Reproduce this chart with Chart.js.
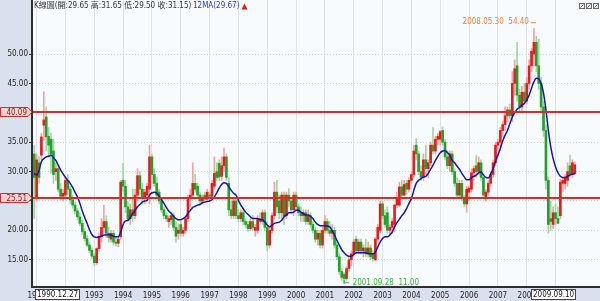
<!DOCTYPE html>
<html>
<head>
<meta charset="utf-8">
<script src="https://cdn.jsdelivr.net/npm/chart.js@4.4.1/dist/chart.umd.min.js"></script>
<style>
  html, body { margin: 0; padding: 0; background: #fff; }
  #wrap { width: 600px; height: 301px; }
</style>
</head>
<body>
<div id="wrap"><canvas id="kchart" width="600" height="301"></canvas></div>
<script>
// monthly K bars, 1990.12 .. 2009.09 (one row per year)
const opens = [33,
  25.5,31.5,32.8,37.9,39.3,36,35.5,33.5,30,30.5,27,25.8,
  26,28.5,27,25.2,24.3,23.3,22.3,21.2,19.8,18.6,17.5,16.6,
  15.6,14.5,16.9,18.9,20.5,21.5,19.5,18.5,19.5,18,17.8,18.9,
  28.5,27.5,24,22,23.5,22.5,26,29.3,27,25.5,26,27,
  32.5,29.5,28,26.5,25,23.5,22.5,21.5,21.8,22.5,20.5,19.5,
  21,19.5,20,22,25.5,26,28,27.5,26,25,26,25.3,
  26,25.8,27.5,30,31.4,29.2,31,32.5,28,23.5,22.5,25,
  22.5,22,23,21.5,21,20.3,21.5,20,20,22,21.5,23,
  20.5,17.5,20,22.5,26.5,25,23,26,22.5,26,25,23.5,
  26,24,23,22.5,23,21.5,22.5,21,20,18.5,19.5,17.5,
  20,21.5,20,19.5,20,17.5,15.5,13,12.5,11.8,13.5,15,
  16,18.5,16.5,18,16.5,17,16,17,16,15,18.5,20,
  24.5,22.5,23,20,20.5,21,24.3,24.3,27.4,26,28,27,
  28.5,29.5,34.5,33,30,29,32,30.5,31.5,34.5,33.5,35.5,
  35.5,37,35,32.5,31,33,30,28,26,28,25.5,24.5,
  26.5,27,29.8,31,30,31.5,29,25.5,26.5,28,29.5,31.5,
  34.5,35,37,38,39.5,40.5,39.5,45,48,43,41,43.5,
  42,45,48,50,52,48,45,41,37,28.5,22,21,
  23,22,22.5,28,28,28.5,31,29.5,29.65];

const highs = [34.5,
  33,32.5,36.5,43.6,41,37.5,36.5,35.5,31.5,31,28,27,
  29,29.5,27.5,26,24.8,23.8,23,21.8,20.3,19.2,18,17,
  16,17,19.5,22,24.3,22.5,20.5,20,20,18.8,19,28.5,
  31.4,28.5,25,24.5,27,27,30.5,30,28,27,28,34.5,
  33,30.5,29,27,25.5,24,23,22.5,23,23,21.5,21,
  21.5,20.5,22.5,26,27,31.5,29.5,28,26.5,26,26.5,27,
  26.5,28.5,32.5,31.5,32,32.5,34,33,29,25,25.5,25.5,
  23.5,23.5,23.5,22,21.5,22,22.5,21,22.5,23,23.5,23.5,
  21.5,20.5,23,28.2,28.5,26,26.5,26.5,26.5,27.1,25.5,26.5,
  26.5,24.5,24,23.5,23.5,23.5,23,21.5,20.5,20,20,20.5,
  22.5,22,21.5,21,20.5,18,16,13.5,12.8,13.8,15.5,16.5,
  18.5,19,18.5,18.5,17.5,18.5,18,17.5,16.5,18.8,21,25,
  25,23.5,24,21,22,24.5,26.5,28.2,28.5,28.5,28.5,29,
  30,34.5,35.6,33.5,31,33,34.5,32,35,37.5,36,36.5,
  37,37.6,35.5,33.5,33.5,33.5,30.5,29,28.5,28.5,26,27.5,
  27.5,30.5,31,32.8,32.5,32,29.5,27,28.5,30,32,35,
  35.5,37.5,38.5,41,41,41.5,47,49,52,44,44.5,45,
  46,49,51,54.4,53,52.5,46,42,38,29,25,24,
  24.5,24,28.7,29,29.5,31.5,32.8,32,31.65];

const lows = [22,
  25,28,32,35.3,33.5,32.5,29.7,28,28.5,26.5,25.2,25,
  25.5,26,24.5,23.8,22.8,21.8,20.8,19.3,18.2,17.2,16.2,15.2,
  14,14.2,16.5,18,19.5,18.8,18,18,17.5,17.3,17.2,18.5,
  26.5,23,21.5,21,21.5,22,25,26,24.5,24.5,25,24.5,
  28,27.5,25.5,24.5,23,22,21.5,20.5,21,20,18,18.5,
  19,19,19.5,21.5,24,25.5,26.5,25.5,24.5,24.5,24.8,25,
  25.2,25.5,27,28.5,28.5,28.5,30,28.5,22.5,22,22,22,
  21.5,21.5,21,20.5,19.8,20,20,19,19.5,21,21,20,
  16.5,17,19.5,22,23,22,22,21,22,24,23,22.5,
  23.5,22.5,21.5,21.5,21,21,20.5,19.5,18,17.5,17,17,
  19.5,19.5,19,18.5,17,15,12.5,11.5,11,11.5,13,14,
  15.5,16,16,16,15.5,15.5,15.5,15,14.8,14.8,18,19.5,
  22,20.5,19.5,19.2,19.5,19.7,23.8,24,25.5,25.8,26,26.5,
  28,29,32,29.5,28.5,28.5,29.5,29,31,33,33,34.5,
  34.5,34.5,32,30.5,30,29.5,27.5,25.5,25.5,25,24,23.1,
  25,26.5,28.5,29,29.5,28.5,25.5,25,26,27.5,29,31,
  33.5,34,36,37,38.5,39,38.5,43,42,40,40,41.5,
  41.5,44,47,48,47,44,40,36,27,19.5,20,20.3,
  21,21.1,22,26.5,27,27.5,29,29,29.5];

const closes = [29,
  32,29,35.9,38.8,35.9,34.5,33,29.5,30.5,27,25.8,26.3,
  28.5,27,25.2,24.3,23.3,22.3,21.2,19.8,18.6,17.5,16.6,15.6,
  14.5,16.9,18.9,20.5,21.5,19.5,18.8,19.5,18,17.8,18.5,28.2,
  27.5,24,22,23.5,22.5,26,29.3,27,25.5,26.5,27.5,32.5,
  29.5,28,26,25,23.5,22.5,22,22,22.5,20.5,19,20,
  19.5,20,22,25.5,26,28,27,26,25,25.5,25.3,26.5,
  25.8,28,29.7,29,29.1,31,32.5,29,23.5,22.5,25,22.5,
  22,23,21.5,21,20.3,21.5,20.5,20.5,22,21.5,23,20.5,
  17.5,20,22.5,26.5,24,23,26,22.5,26,25,23.5,26,
  24,23,22.5,23,21.5,22.5,21,20,18.5,19.5,17.5,20,
  21.5,20,19.5,20,17.5,15.5,13,12,11.8,13.5,15,16,
  18,16.5,18,16.5,17,16,17,15.5,15.2,18.5,20.5,24.5,
  22.5,21,20,20.5,21.5,24.3,25.5,27.4,26,27.8,27,28.5,
  29.5,33.5,33,30,29,32,30.5,31.5,34.5,33.5,35.5,36,
  36.8,35,32.5,31,33,30,28,26,28,25.5,24.5,27,
  27.2,29.8,30.5,30,31.5,29,26,26.5,28,29.5,31.5,34.5,
  35,37,38,39.5,40.5,39.5,45,47.5,43,41,43.5,42,
  45,48,50.5,52,48,45,41,37,28.5,21,21.5,23,
  22,21.2,28.2,28.5,29,30,29.5,31.5,31.15];

// 12MA line
const ma12 = [29.7,
  29.4,30.2,31.7,32.2,32.5,32.6,32.8,32.4,31.9,31.1,30.3,29.6,
  29.0,28.5,28.0,27.3,26.5,25.7,24.6,23.3,22.2,21.2,20.1,19.3,
  18.9,18.8,18.9,19.0,19.2,19.2,19.3,19.2,19.0,18.9,18.9,19.7,
  21.0,21.6,21.7,22.2,22.9,23.4,24.0,24.4,24.8,25.0,25.1,26.0,
  26.4,26.5,26.3,25.8,25.2,24.6,23.9,23.3,22.9,22.4,22.0,21.8,
  21.8,22.0,22.3,22.9,23.4,23.9,24.1,24.3,24.4,24.7,24.8,24.9,
  25.0,25.2,25.7,26.4,27.2,27.8,28.1,28.0,27.4,26.8,26.3,26.0,
  25.1,24.3,23.7,23.1,22.7,22.3,22.0,22.0,22.0,21.8,21.8,21.4,
  20.9,20.6,20.9,21.2,21.3,21.4,21.7,22.3,22.6,23.0,23.0,23.1,
  23.4,23.4,23.1,22.9,22.6,22.6,22.4,22.0,21.4,21.0,20.8,20.8,
  20.8,20.7,20.6,20.0,19.2,18.3,17.5,16.7,16.2,15.8,15.6,15.6,
  15.9,16.2,16.2,16.2,16.2,16.2,16.0,16.0,16.0,16.3,17.2,18.0,
  18.6,18.9,18.9,19.2,19.7,20.6,21.3,21.9,22.5,23.0,23.7,24.6,
  25.4,26.8,28.0,28.5,28.8,29.1,29.2,29.7,30.4,31.1,31.9,32.6,
  33.2,33.5,33.6,33.2,32.8,31.9,31.5,30.9,30.4,29.7,29.1,28.6,
  28.6,29.0,29.2,29.4,29.8,29.95,29.4,29.0,28.9,29.6,30.5,31.7,
  32.8,33.9,35.2,36.2,37.0,38.2,39.3,40.0,40.6,40.9,41.3,41.6,
  42.2,43.0,44.2,45.3,45.9,45.8,45.0,43.3,40.5,37.0,34.2,32.2,
  30.8,29.8,29.2,29.0,29.0,29.2,29.4,29.6,29.67];

const refLevels = [40.09, 25.51];
const yTicks = [15, 20, 25, 30, 35, 40, 45, 50];
const startYear = 1990, startMonth = 12, padMonths = 10;
const firstDate = '1990.12.27', lastDate = '2009.09.10';
const peakIdx = 208, peakDate = '2008.05.30';
const lowIdx = 129, lowDate = '2001.09.28';

const FONT = '"DejaVu Sans Condensed", "DejaVu Sans", "Noto Sans CJK TC", sans-serif';

// month categories (padding months at the end stay empty)
const labels = [];
let yy = startYear, mm = startMonth;
for (let i = 0; i < opens.length + padMonths; i++) {
  labels.push(yy + '.' + String(mm).padStart(2, '0'));
  mm++;
  if (mm > 12) { mm = 1; yy++; }
}
const isJan = i => i < opens.length && labels[i].endsWith('.01');
const up = i => closes[i] >= opens[i];

const wicks = lows.map((l, i) => [l, highs[i]]);
const bodies = opens.map((o, i) => [o, closes[i]]);

function levelTag(ctx, y, txt) {
  ctx.beginPath();
  ctx.moveTo(0.5, y - 4.5);
  ctx.lineTo(28, y - 4.5);
  ctx.lineTo(32, y);
  ctx.lineTo(28, y + 4.5);
  ctx.lineTo(0.5, y + 4.5);
  ctx.closePath();
  ctx.fillStyle = '#f6d2d2';
  ctx.fill();
  ctx.strokeStyle = '#d42a2a';
  ctx.lineWidth = 1;
  ctx.stroke();
  ctx.fillStyle = '#7a2626';
  ctx.textAlign = 'right';
  ctx.textBaseline = 'middle';
  ctx.fillText(txt, 27, y + 0.5);
}

function dateBox(ctx, x, y, txt, align) {
  const w = Math.round(ctx.measureText(txt).width) + 4;
  const bx = align === 'left' ? x : x - w;
  ctx.fillStyle = '#fff';
  ctx.fillRect(bx, y, w, 11);
  ctx.strokeStyle = '#444';
  ctx.lineWidth = 1;
  ctx.strokeRect(bx + 0.5, y + 0.5, w - 1, 10);
  ctx.fillStyle = '#111';
  ctx.textAlign = 'left';
  ctx.textBaseline = 'middle';
  ctx.fillText(txt, bx + 2, y + 6);
}

const decor = {
  id: 'decor',
  beforeDraw(chart) {
    const { ctx, chartArea: a } = chart;
    ctx.save();
    ctx.fillStyle = '#d9e0ee';
    ctx.fillRect(0, 0, chart.width, chart.height);
    ctx.fillStyle = '#f7fbfd';
    ctx.fillRect(a.left, a.top, a.right - a.left, a.bottom - a.top);
    ctx.restore();
  },
  afterDatasetsDraw(chart) {
    const { ctx, chartArea: a, scales } = chart;
    ctx.save();
    ctx.strokeStyle = '#e0282a';
    ctx.lineWidth = 2;
    refLevels.forEach(v => {
      const y = Math.round(scales.y.getPixelForValue(v));
      ctx.beginPath();
      ctx.moveTo(a.left, y);
      ctx.lineTo(a.right, y);
      ctx.stroke();
    });
    ctx.restore();
  },
  afterDraw(chart) {
    const { ctx, chartArea: a, scales } = chart;
    const x = scales.x, y = scales.y;
    const last = opens.length - 1;
    ctx.save();
    ctx.font = '8px ' + FONT;

    // axis lines
    ctx.fillStyle = '#2e2e2e';
    ctx.fillRect(a.left - 2, 0, 2, a.bottom + 1);
    ctx.fillRect(a.left - 2, a.bottom - 1, a.right - a.left + 2, 2);

    // tags on the price axis
    refLevels.forEach(v => levelTag(ctx, Math.round(y.getPixelForValue(v)), v.toFixed(2)));

    // header
    ctx.textAlign = 'left';
    ctx.textBaseline = 'middle';
    ctx.fillStyle = '#333';
    const head = 'K線圖(開:' + opens[last].toFixed(2) + ' 高:' + highs[last].toFixed(2) +
      ' 低:' + lows[last].toFixed(2) + ' 收:' + closes[last].toFixed(2) + ')';
    ctx.fillText(head, a.left + 1, 6);
    const maX = a.left + 160;
    const maTxt = '12MA(' + ma12[last].toFixed(2) + ')';
    ctx.fillStyle = '#3535b8';
    ctx.fillText(maTxt, maX, 6);
    const tx = maX + ctx.measureText(maTxt).width + 2;
    ctx.fillStyle = '#e02020';
    ctx.beginPath();
    ctx.moveTo(tx, 9.5);
    ctx.lineTo(tx + 3, 3.5);
    ctx.lineTo(tx + 6, 9.5);
    ctx.closePath();
    ctx.fill();

    // window buttons top right
    for (let k = 0; k < 3; k++) {
      const bx = 579 + k * 7;
      ctx.fillStyle = '#eef0f4';
      ctx.fillRect(bx, 3, 6, 6);
      ctx.strokeStyle = '#6a6a6a';
      ctx.strokeRect(bx + 0.5, 3.5, 5, 5);
      ctx.beginPath();
      ctx.moveTo(bx + 1.5, 7.5);
      ctx.lineTo(bx + 4.5, 4.5);
      ctx.stroke();
    }

    // high marker
    const px = x.getPixelForValue(peakIdx);
    const py = y.getPixelForValue(highs[peakIdx]) - 6;
    ctx.fillStyle = '#e8823c';
    ctx.strokeStyle = '#e8823c';
    ctx.textAlign = 'right';
    ctx.fillText(peakDate + '  ' + highs[peakIdx].toFixed(2), px - 5, py);
    ctx.beginPath();
    ctx.moveTo(px - 3, py + 0.5);
    ctx.lineTo(px + 2, py + 0.5);
    ctx.stroke();

    // low marker
    const lx = x.getPixelForValue(lowIdx);
    const ly = y.getPixelForValue(lows[lowIdx]);
    ctx.fillStyle = '#3fae3f';
    ctx.strokeStyle = '#3fae3f';
    ctx.beginPath();
    ctx.moveTo(lx, ly - 3.5);
    ctx.lineTo(lx, ly + 0.5);
    ctx.moveTo(lx, ly - 0.5);
    ctx.lineTo(lx + 5, ly - 0.5);
    ctx.stroke();
    ctx.textAlign = 'left';
    ctx.fillText(lowDate + '  ' + lows[lowIdx].toFixed(2), lx + 8.5, ly - 0.7);

    // date boxes under the axis
    dateBox(ctx, Math.round(x.getPixelForValue(0)) + 1, 289, firstDate, 'left');
    dateBox(ctx, Math.round(x.getPixelForValue(last)) + 1, 289, lastDate, 'right');
    ctx.restore();
  }
};

new Chart(document.getElementById('kchart'), {
  type: 'bar',
  data: {
    labels: labels,
    datasets: [
      {
        type: 'bar',
        data: wicks,
        backgroundColor: wicks.map((w, i) => up(i) ? '#eea3a3' : '#9fd69f'),
        barThickness: 1,
        grouped: false,
        borderWidth: 0,
        order: 3
      },
      {
        type: 'bar',
        data: bodies,
        backgroundColor: bodies.map((b, i) => up(i) ? '#e01e1e' : '#22a229'),
        barThickness: 2,
        minBarLength: 1,
        grouped: false,
        borderWidth: 0,
        order: 2
      },
      {
        type: 'line',
        data: ma12,
        borderColor: '#1616a6',
        borderWidth: 1.5,
        pointRadius: 0,
        cubicInterpolationMode: 'monotone',
        fill: false,
        order: 1
      }
    ]
  },
  options: {
    responsive: false,
    animation: false,
    events: [],
    layout: { padding: 0, autoPadding: false },
    plugins: { legend: { display: false }, tooltip: { enabled: false } },
    scales: {
      x: {
        offset: true,
        grid: {
          offset: false,
          drawTicks: false,
          color: c => isJan(c.index) ? '#dde2e8' : 'rgba(0,0,0,0)',
          lineWidth: 1
        },
        border: { display: false },
        ticks: {
          autoSkip: false,
          maxRotation: 0,
          minRotation: 0,
          padding: 4,
          color: '#222',
          font: { family: FONT, size: 8 },
          callback: (v, i) => isJan(i) ? labels[i].slice(0, 4) : ''
        },
        afterFit: s => { s.height = 14; s.paddingLeft = 0; s.paddingRight = 0; }
      },
      y: {
        min: 10.36,
        max: 59.2,
        afterBuildTicks: s => { s.ticks = yTicks.map(v => ({ value: v })); },
        grid: {
          color: '#c9d1d9',
          drawTicks: true,
          tickLength: 4,
          tickColor: '#333',
          tickWidth: 1
        },
        border: { display: false, dash: [1, 2] },
        ticks: {
          padding: 1,
          color: '#222',
          font: { family: FONT, size: 8 },
          callback: v => Number(v).toFixed(2)
        },
        afterFit: s => { s.width = 33; s.paddingTop = 0; s.paddingBottom = 0; }
      }
    }
  },
  plugins: [decor]
});
</script>
</body>
</html>
